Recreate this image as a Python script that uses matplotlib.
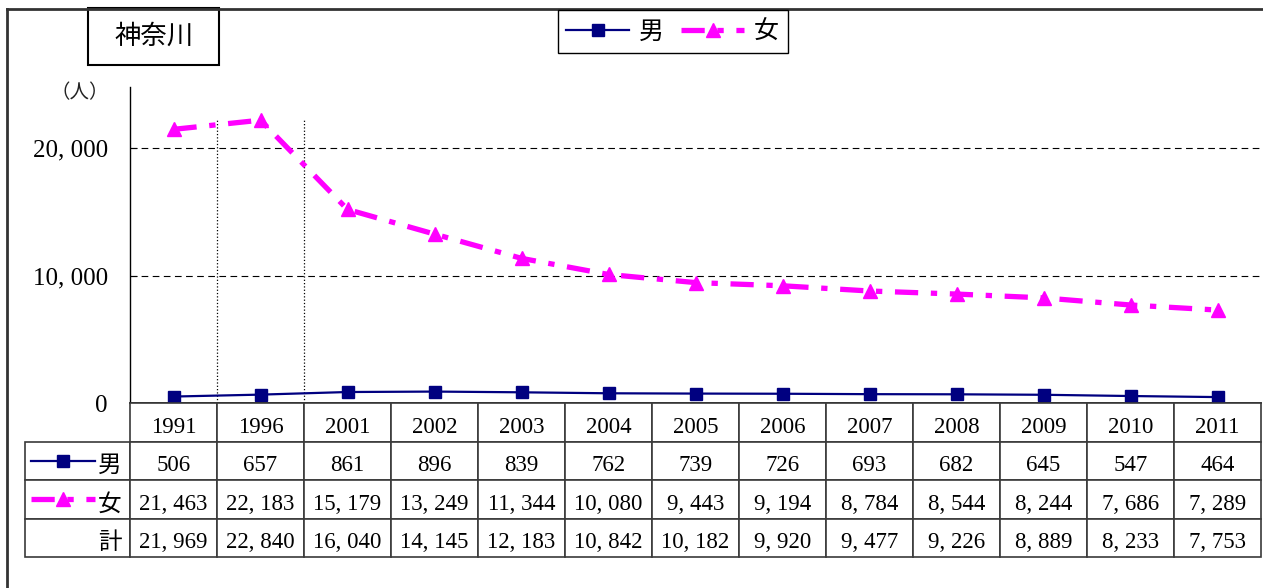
import matplotlib
matplotlib.use('Agg')
import matplotlib.pyplot as plt
from matplotlib.lines import Line2D
from matplotlib.patches import Rectangle
from matplotlib.transforms import Affine2D
import numpy as np

years = ['1991', '1996', '2001', '2002', '2003', '2004', '2005',
         '2006', '2007', '2008', '2009', '2010', '2011']
male = [506, 657, 861, 896, 839, 762, 739, 726, 693, 682, 645, 547, 464]
female = [21463, 22183, 15179, 13249, 11344, 10080, 9443, 9194, 8784,
          8544, 8244, 7686, 7289]
row_names = ['', '男', '女', '計']
yticks = [0, 10000, 20000]

W, H = 1263, 588
NAVY = '#000080'
MAGENTA = '#FF00FF'
SERIF = ['Liberation Serif', 'Noto Sans CJK JP']
SANS = ['Noto Sans CJK JP', 'DejaVu Sans']
F_DASH = (0, (4.4, 2.4, 1.2, 2.4))

def fmt(v):
    return f"{v:,}".replace(",", ", ")

total = [m + f for m, f in zip(male, female)]
x = np.arange(len(years))

fig = plt.figure(figsize=(W / 100, H / 100), dpi=100)

# main plot area
ax = fig.add_axes([130 / W, (H - 403) / H, 1131 / W, 316.2 / H])
ax.set_xlim(-0.5, len(years) - 0.5)
ax.set_ylim(0, 24800)
for y in yticks[1:]:
    ax.axhline(y, color='black', lw=0.8, ls=(0, (6, 4)), zorder=1)
ax.vlines([0.5, 1.5], 0, 22200, colors='black', lw=0.9, linestyles=':', zorder=1)

ax.plot(x, male, color=NAVY, lw=1.6, marker='s', ms=8, clip_on=False, zorder=3)
ax.plot(x, female, color=MAGENTA, lw=3.8, ls=F_DASH, marker='^', ms=10,
        clip_on=False, zorder=3)

ax.set_xticks([])
ax.set_yticks(yticks)
ax.set_yticklabels([fmt(v) for v in yticks], family=SERIF, fontsize=18)
ax.tick_params(axis='y', direction='in', length=5, pad=16, colors='black')
ax.spines['top'].set_visible(False)
ax.spines['right'].set_visible(False)
ax.spines['left'].set_linewidth(1.0)
ax.spines['bottom'].set_linewidth(1.2)

fig.text(80 / W, 1 - 93 / H, '（人）', family=SANS, fontsize=14,
         ha='center', va='center', color='#222222')

# legend
h_m = Line2D([], [], color=NAVY, lw=1.6, marker='s', ms=8)
h_f = Line2D([], [], color=MAGENTA, lw=3.8, ls=F_DASH, marker='^', ms=10)
leg = fig.legend([h_m, h_f], ['男', '女'], loc='center',
                 bbox_to_anchor=(672.5 / W, 1 - 31.5 / H), ncol=2,
                 prop={'family': SANS, 'size': 18}, frameon=True,
                 fancybox=False, edgecolor='black', framealpha=1,
                 handlelength=2.5, columnspacing=0.7, handletextpad=0.4,
                 borderpad=0.35, borderaxespad=0)
leg.get_frame().set_linewidth(1.0)

# title box
fig.add_artist(Rectangle((88 / W, 1 - 65 / H), 131 / W, 57 / H,
                         transform=fig.transFigure, fill=False,
                         ec='black', lw=1.5))
fig.text(154 / W, 1 - 36 / H, '神奈川', family=SANS, fontsize=19,
         ha='center', va='center')

# outer frame (left and top edges)
fig.add_artist(Line2D([7 / W, 7 / W], [0, 1 - 9 / H], transform=fig.transFigure,
                      color='#333333', lw=2))
fig.add_artist(Line2D([7 / W, 1], [1 - 9 / H, 1 - 9 / H],
                      transform=fig.transFigure, color='#333333', lw=2))

# data table
tax = fig.add_axes([25 / W, (H - 557) / H, 1236 / W, 154 / H])
tax.axis('off')
tax.set_xlim(0, 1)
tax.set_ylim(0, 1)
cells = [[row_names[0]] + years,
         [row_names[1]] + [fmt(v) for v in male],
         [row_names[2]] + [fmt(v) for v in female],
         [row_names[3]] + [fmt(v) for v in total]]
col_w = [105 / 1236] + [87 / 1236] * len(years)
tb = tax.table(cellText=cells, colWidths=col_w, cellLoc='center',
               bbox=[0, 0, 1, 1])
tb.auto_set_font_size(False)
shift = Affine2D().translate(0, -5)  # text sits a little low in the cells
for (r, c), cell in tb.get_celld().items():
    cell.set_edgecolor('#3a3a3a')
    cell.set_linewidth(1.2)
    txt = cell.get_text()
    txt.set_fontsize(16.5)
    txt.set_family(SERIF)
    txt.set_transform(shift)
    if c == 0:
        cell._loc = 'right'
        cell.PAD = 0.08
        txt.set_ha('right')
        txt.set_family(SANS)
        txt.set_fontsize(17)
    if r == 0 and c == 0:
        cell.visible_edges = ''

# legend keys inside the table
y_m = 0.625
y_f = 0.375
x0, x1 = 6 / 1236, 70 / 1236
tax.plot([x0, (x0 + x1) / 2, x1], [y_m] * 3, color=NAVY, lw=1.6,
         marker='s', ms=8, markevery=[1], clip_on=False)
tax.plot([x0, (x0 + x1) / 2, x1], [y_f] * 3, color=MAGENTA, lw=3.8,
         ls=F_DASH, marker='^', ms=10, markevery=[1], clip_on=False)

fig.savefig('out.png', dpi=100)
